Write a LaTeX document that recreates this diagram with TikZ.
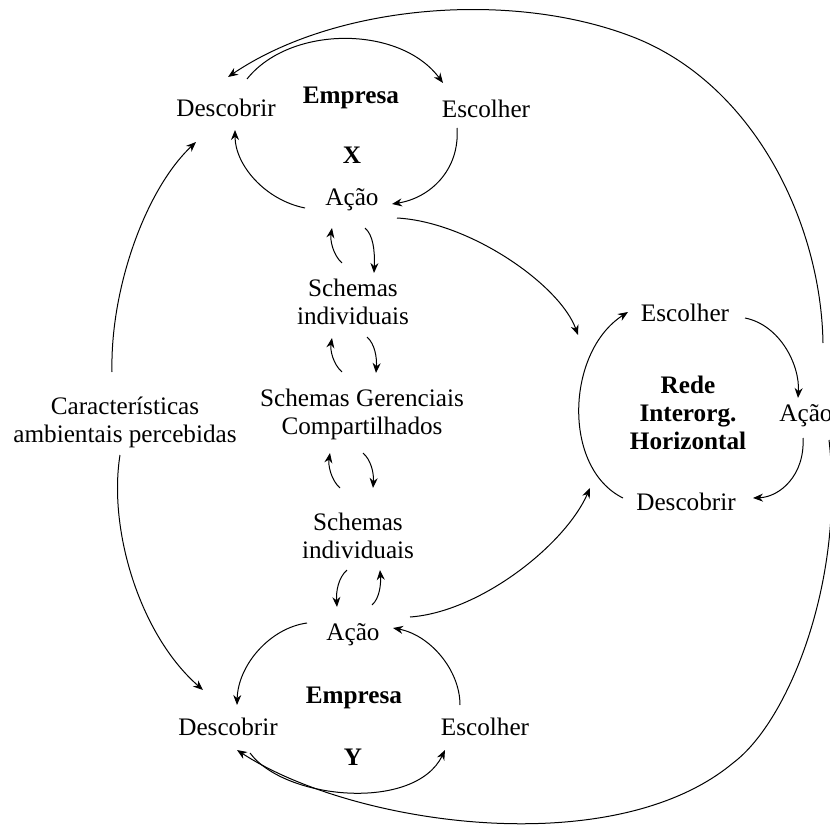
\documentclass[tikz,border=0pt]{standalone}
\usepackage{fontspec}
\setmainfont{Liberation Serif}
\usepackage{tikz}
\usetikzlibrary{calc}
\usetikzlibrary{arrows.meta}

\tikzset{
	lbl/.style={align=center, inner sep=1pt, font=\fontsize{12.6}{14}\selectfont},
	boldlbl/.style={lbl, font=\fontsize{12.6}{14}\selectfont\bfseries},
	link/.style={->, line width=0.5pt},
}

\begin{document}
\begin{tikzpicture}[x=0.5pt, y=-0.5pt]

\useasboundingbox (0,0) rectangle (830,829);

%% Empresa X
\node at (226,108) [lbl] (descX) {Descobrir};
\node at (351,98) [boldlbl] (empX) {Empresa};
\node at (486,109) [lbl] (escX) {Escolher};
\node at (352,155) [boldlbl] (lblX) {X};
\node at (352,200) [lbl] (acaoX) {Ação};

%% schemas
\node at (353,302) [lbl] (schX) {Schemas\\individuais};
\node at (362,414) [lbl] (schG) {Schemas Gerenciais\\Compartilhados};
\node at (358,536) [lbl] (schY) {Schemas\\individuais};

%% Empresa Y
\node at (353,635) [lbl] (acaoY) {Ação};
\node at (354,698) [boldlbl] (empY) {Empresa};
\node at (228,727) [lbl] (descY) {Descobrir};
\node at (485,727) [lbl] (escY) {Escolher};
\node at (353,757) [boldlbl] (lblY) {Y};

%% rede
\node at (685,313) [lbl] (escR) {Escolher};
\node at (688,413) [boldlbl] (rede) {Rede\\Interorg.\\Horizontal};
\node at (806,416) [lbl] (acaoR) {Ação};
\node at (686,502) [lbl] (descR) {Descobrir};

\node at (125,422) [lbl] (carac) {Características\\ambientais percebidas};


\begin{scope}[>={Stealth[length=5pt,width=4pt]}]
	% ciclo X
	\draw [link] ($(descX)+(21,-29)$) .. controls (290,25) and (400,25) .. ($(escX)+(-43,-26)$);
	\draw [link] ($(escX)+(-29,19)$) .. controls (460,170) and (430,198) .. ($(acaoX)+(40,4)$);
	\draw [link] ($(acaoX)+(-47,8)$) .. controls (265,200) and (235,165) .. ($(descX)+(9,22)$);

	% ciclo Y
	\draw [link] ($(acaoY)+(-46,-12)$) .. controls (270,628) and (238,665) .. ($(descY)+(9,-22)$);
	\draw [link] ($(escY)+(-25,-22)$) .. controls (460,670) and (430,635) .. ($(acaoY)+(40,-7)$);
	\draw [link] ($(descY)+(22,26)$) .. controls (285,800) and (415,812) .. ($(escY)+(-40,23)$);

	% ciclo rede
	\draw [link] ($(escR)+(60,5)$) .. controls (780,325) and (800,365) .. ($(acaoR)+(-8,-18)$);
	\draw [link] ($(acaoR)+(-3,22)$) .. controls (805,475) and (780,497) .. ($(descR)+(67,-4)$);
	\draw [link] ($(descR)+(-63,-4)$) .. controls (562,468) and (566,352) .. ($(escR)+(-57,-1)$);

	% schemas
	\draw [link] ($(schX)+(-11,-39)$) .. controls (333,255) and (330,240) .. ($(acaoX)+(-20,28)$);
	\draw [link] ($(acaoX)+(13,28)$) .. controls (373,235) and (375,250) .. ($(schX)+(21,-29)$);
	\draw [link] ($(schG)+(-20,-42)$) .. controls (333,364) and (330,350) .. ($(schX)+(-21,36)$);
	\draw [link] ($(schX)+(14,35)$) .. controls (375,344) and (377,358) .. ($(schG)+(14,-41)$);
	\draw [link] ($(schY)+(-18,-48)$) .. controls (331,480) and (328,465) .. ($(schG)+(-32,39)$);
	\draw [link] ($(schG)+(1,39)$) .. controls (371,460) and (374,473) .. ($(schY)+(15,-48)$);
	\draw [link] ($(schY)+(-11,34)$) .. controls (338,578) and (336,592) .. ($(acaoY)+(-16,-28)$);
	\draw [link] ($(acaoY)+(19,-30)$) .. controls (380,598) and (381,583) .. ($(schY)+(22,34)$);

	% acao -> rede
	\draw [link] ($(acaoX)+(45,18)$) .. controls (470,222) and (560,285) .. ($(escR)+(-107,22)$);
	\draw [link] ($(acaoY)+(57,-18)$) .. controls (480,612) and (565,545) .. ($(descR)+(-96,-14)$);

	% caracteristicas
	\draw [link] ($(carac)+(-13,-50)$) .. controls (110,290) and (145,190) .. ($(descX)+(-30,34)$);
	\draw [link] ($(carac)+(-5,33)$) .. controls (108,530) and (140,635) .. ($(descY)+(-25,-37)$);

	% rede -> empresas
	\draw [link] ($(acaoR)+(17,-73)$) .. controls (821,223) and (754,84) .. (633,37)
		.. controls (512,-10) and (336,4) .. ($(descX)+(2,-31)$);
	\draw [link] ($(acaoR)+(23,24)$) .. controls (845,580) and (789,721) .. (733,763)
		.. controls (613,863) and (352,825) .. ($(descY)+(9,23)$);
\end{scope}

\end{tikzpicture}
\end{document}
